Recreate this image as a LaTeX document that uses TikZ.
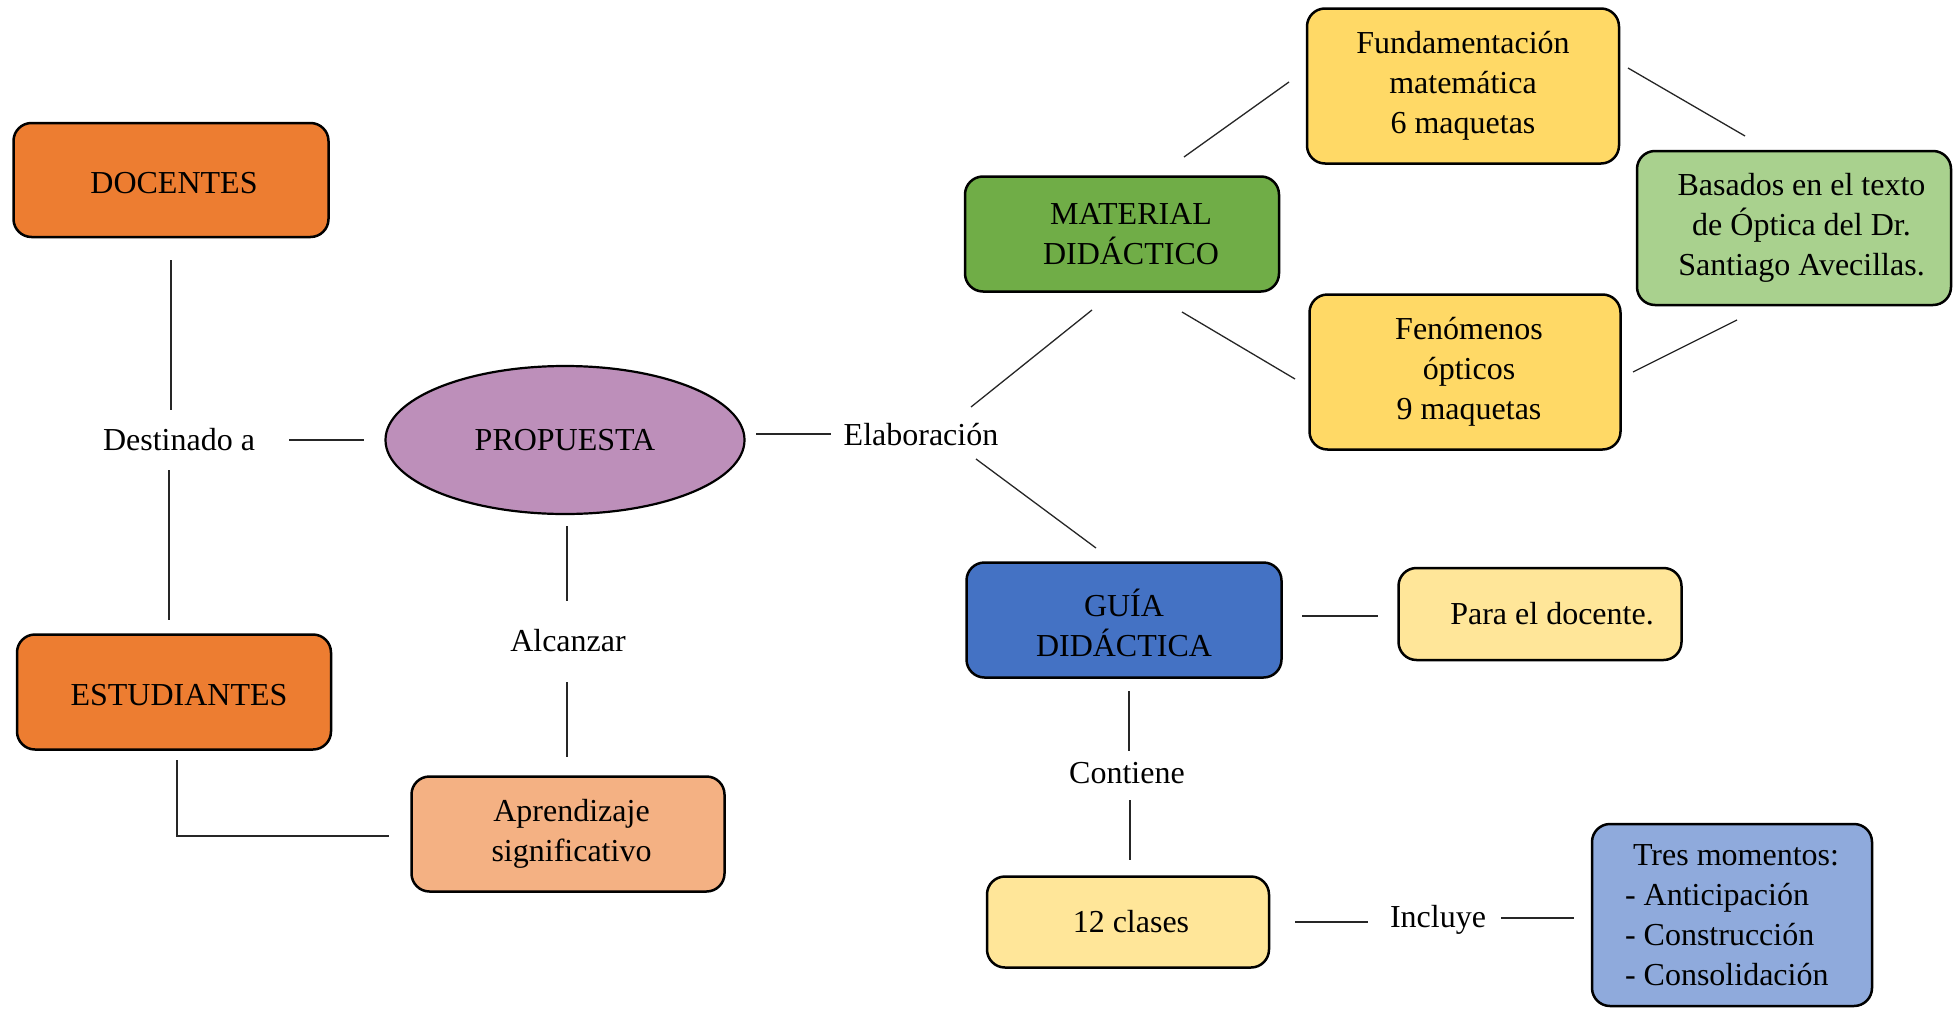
\documentclass[tikz,border=0pt]{standalone}
\usepackage{fontspec}
\setmainfont{Liberation Serif}
\usetikzlibrary{calc,shapes.geometric}
\definecolor{corange}{HTML}{ED7D31}
\definecolor{cpeach}{HTML}{F4B183}
\definecolor{cpurple}{HTML}{BD8FBA}
\definecolor{cgreen}{HTML}{70AD47}
\definecolor{clgreen}{HTML}{A9D18E}
\definecolor{cgold}{HTML}{FFD966}
\definecolor{clyellow}{HTML}{FFE699}
\definecolor{cblue}{HTML}{4472C4}
\definecolor{clblue}{HTML}{8FAADC}
\begin{document}
\begin{tikzpicture}[x=1pt,y=-1pt,
  boxbase/.style={draw=black, line width=2.5pt, rounded corners=18pt,
    inner sep=0pt, font=\fontsize{32}{40}\selectfont},
  box/.style={boxbase, align=center},
  capbox/.style={boxbase, text height=26pt, text depth=0pt},
  lbl/.style={inner sep=0pt, font=\fontsize{32}{40}\selectfont},
  conn/.style={line width=1.3pt, black!85}]
\useasboundingbox (0,0) rectangle (1960,1009);

% main boxes
\node[capbox, fill=corange, minimum width=315pt, minimum height=114pt] (doc) at (171,180) {\hspace*{6pt}DOCENTES};
\node[capbox, fill=corange, minimum width=314pt, minimum height=115pt] (est) at (174,692) {\hspace*{10pt}ESTUDIANTES};
\node[ellipse, draw=black, line width=2.2pt, fill=cpurple, inner sep=0pt,
  minimum width=359pt, minimum height=148pt, font=\fontsize{32}{40}\selectfont] (prop) at (565,440) {PROPUESTA};
\node[box, fill=cpeach, minimum width=313pt, minimum height=115pt] (apr) at (568,834) {\hspace*{7pt}Aprendizaje\\\hspace*{7pt}significativo};
\node[box, fill=cgreen, minimum width=314pt, minimum height=115pt] (mat) at (1122,234) {\hspace*{18pt}MATERIAL\\\hspace*{18pt}DIDÁCTICO};
\node[box, fill=cgold, minimum width=312pt, minimum height=155pt] (fund) at (1463,86) {Fundamentación\\matemática\\6 maquetas};
\node[box, fill=cgold, minimum width=311pt, minimum height=155pt] (fen) at (1465,372) {\hspace*{8pt}Fenómenos\\\hspace*{8pt}ópticos\\\hspace*{8pt}9 maquetas};
\node[box, fill=clgreen, minimum width=314pt, minimum height=154pt] (bas) at (1794,228) {\hspace*{15pt}Basados en el texto\\\hspace*{15pt}de Óptica del Dr.\\\hspace*{15pt}Santiago Avecillas.};
\node[box, fill=cblue, minimum width=315pt, minimum height=115pt] (guia) at (1124,620) {\rule{0pt}{34pt}GUÍA\\DIDÁCTICA};
\node[box, fill=clyellow, minimum width=283pt, minimum height=92pt] (para) at (1540,614) {\hspace*{24pt}Para el docente.};
\node[box, fill=clyellow, minimum width=282pt, minimum height=91pt] (clases) at (1128,922) {\hspace*{6pt}12 clases};
\node[box, fill=clblue, minimum width=280pt, minimum height=182pt, align=left] (tres) at (1732,915)
  {\hspace*{8pt}Tres momentos:\\- Anticipación\\- Construcción\\- Consolidación};

% link labels
\node[lbl] (dest) at (179,440) {Destinado a};
\node[lbl] (alc) at (568,641) {Alcanzar};
\node[lbl] (elab) at (921,435) {Elaboración};
\node[lbl] (cont) at (1127,773) {Contiene};
\node[lbl] (incl) at (1438,920) {Incluye};

% connectors
\draw[conn] ($(doc)+(0,80)$) -- ($(dest)+(-8,-30)$);
\draw[conn] ($(dest)+(-10,30)$) -- ($(est)+(-5,-72)$);
\draw[conn] ($(dest)+(110,0)$) -- ($(prop)+(-201,0)$);
\draw[conn] ($(prop)+(191,-6)$) -- ($(elab)+(-90,-1)$);
\draw[conn] ($(elab)+(50,-28)$) -- ($(mat)+(-30,76)$);
\draw[conn] ($(elab)+(55,24)$) -- ($(guia)+(-28,-72)$);
\draw[conn] ($(mat)+(62,-77)$) -- ($(fund)+(-174,-4)$);
\draw[conn] ($(mat)+(60,78)$) -- ($(fen)+(-170,7)$);
\draw[conn] ($(fund)+(165,-18)$) -- ($(bas)+(-49,-92)$);
\draw[conn] ($(bas)+(-57,92)$) -- ($(fen)+(168,0)$);
\draw[conn] ($(prop)+(2,86)$) -- ($(alc)+(-1,-40)$);
\draw[conn] ($(alc)+(-1,41)$) -- ($(apr)+(-1,-77)$);
\draw[conn] ($(est)+(3,68)$) |- ($(apr)+(-179,2)$);
\draw[conn] ($(guia)+(178,-4)$) -- ($(para)+(-162,2)$);
\draw[conn] ($(guia)+(5,71)$) -- ($(cont)+(2,-22)$);
\draw[conn] ($(cont)+(3,27)$) -- ($(clases)+(2,-62)$);
\draw[conn] ($(clases)+(167,0)$) -- ($(incl)+(-70,2)$);
\draw[conn] ($(incl)+(63,-2)$) -- ($(tres)+(-158,3)$);
\end{tikzpicture}
\end{document}
